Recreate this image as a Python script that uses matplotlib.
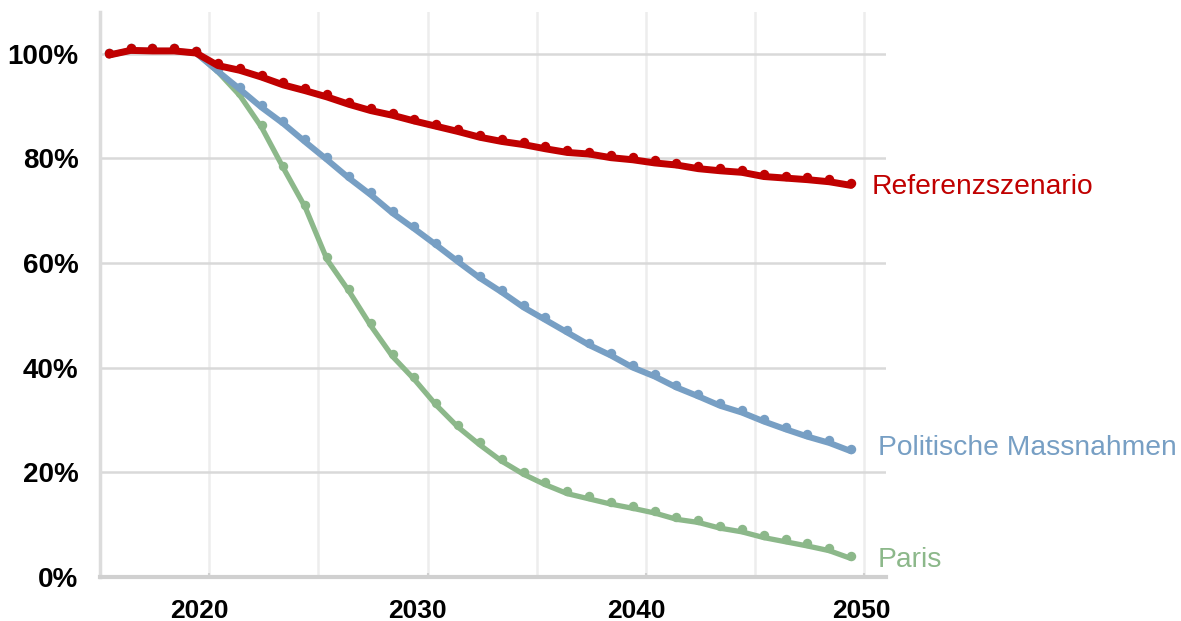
import matplotlib
matplotlib.use("Agg")
import matplotlib.pyplot as plt
import matplotlib.transforms as mtransforms
import numpy as np

years = list(range(2015, 2050))

referenz = [100.2, 101.1, 101.0, 101.0, 100.6, 98.2, 97.3, 96.0, 94.5, 93.4,
            92.2, 90.8, 89.6, 88.7, 87.6, 86.6, 85.6, 84.5, 83.7, 83.1,
            82.3, 81.6, 81.3, 80.6, 80.2, 79.6, 79.2, 78.5, 78.1, 77.8,
            77.0, 76.7, 76.4, 76.0, 75.3]

politik = [100.2, 101.1, 101.0, 101.0, 100.6, 97.1, 93.7, 90.2, 87.1, 83.6,
           80.2, 76.7, 73.5, 70.0, 67.0, 63.9, 60.7, 57.6, 54.9, 52.0,
           49.6, 47.2, 44.8, 42.8, 40.5, 38.8, 36.7, 35.0, 33.2, 31.9,
           30.2, 28.7, 27.3, 26.1, 24.5]

paris = [100.2, 101.1, 101.0, 101.0, 100.6, 97.0, 92.5, 86.4, 78.6, 71.1,
         61.1, 55.1, 48.5, 42.6, 38.2, 33.3, 29.1, 25.7, 22.6, 20.1,
         18.1, 16.4, 15.4, 14.4, 13.6, 12.7, 11.5, 10.9, 9.8, 9.1,
         8.0, 7.2, 6.4, 5.5, 4.0]

series_names = ["Referenzszenario", "Politische Massnahmen", "Paris"]
x_ticks = [2020, 2030, 2040, 2050]
y_ticks = [0, 20, 40, 60, 80, 100]

RED = "#C00000"
BLUE = "#779FC4"
GREEN = "#8CB88A"

plt.rcParams["font.family"] = ["Liberation Sans", "DejaVu Sans"]

fig = plt.figure(figsize=(11.81, 6.21), dpi=100)
ax = fig.add_axes([0.0847, 0.0709, 0.6656, 0.9101])

# annual values are plotted mid-period
xs = np.array(years) + 0.4

line_tr = mtransforms.offset_copy(ax.transData, fig=fig, x=0, y=-2.5, units="dots")

def draw(values, color, lw, ms, z):
    ax.plot(xs, values, color=color, lw=lw, solid_capstyle="round",
            solid_joinstyle="round", transform=line_tr, zorder=z)
    ax.plot(xs, values, ls="none", marker="o", ms=ms, color=color,
            markeredgewidth=0, zorder=z)

draw(paris, GREEN, 3.8, 6.8, 3)
draw(politik, BLUE, 4.4, 6.8, 4)
draw(referenz, RED, 5.0, 6.8, 5)

ax.set_xlim(2015, 2051)
ax.set_ylim(0, 108)

ax.set_xticks(x_ticks)
ax.set_xticklabels([str(t) for t in x_ticks], fontsize=19, fontweight="bold")
ax.set_xticks([2025, 2035, 2045], minor=True)
ax.set_yticks(y_ticks)
ax.set_yticklabels([f"{t}%" for t in y_ticks], fontsize=20, fontweight="bold")

ax.tick_params(axis="x", which="major", direction="in", length=3, width=1.5,
               color="#D0D0D0", pad=16)
ax.tick_params(axis="x", which="minor", length=0)
ax.tick_params(axis="y", length=0, pad=15.5)

# year labels sit slightly left of their gridlines
for lbl, dx in zip(ax.get_xticklabels(), [-10, -10, -10, -3]):
    lbl.set_transform(lbl.get_transform()
                      + mtransforms.ScaledTranslation(dx / 100, 0, fig.dpi_scale_trans))

ax.grid(axis="y", color="#D9D9D9", lw=1.8, zorder=0)
ax.grid(axis="x", which="both", color="#EDEDED", lw=1.8, zorder=0)
ax.set_axisbelow(True)

for side in ("top", "right"):
    ax.spines[side].set_visible(False)
ax.spines["left"].set_color("#DCDCDC")
ax.spines["left"].set_linewidth(2.5)
ax.spines["bottom"].set_color("#D0D0D0")
ax.spines["bottom"].set_linewidth(3)

label_specs = [
    (referenz, RED, (14.5, -3)),
    (politik, BLUE, (19, 0.5)),
    (paris, GREEN, (19, -3)),
]
for name, (vals, color, off) in zip(series_names, label_specs):
    ax.annotate(name, xy=(xs[-1], vals[-1]), xytext=off,
                textcoords="offset points", ha="left", va="center",
                fontsize=20.3, color=color, annotation_clip=False)

fig.savefig("out.png", dpi=100)
